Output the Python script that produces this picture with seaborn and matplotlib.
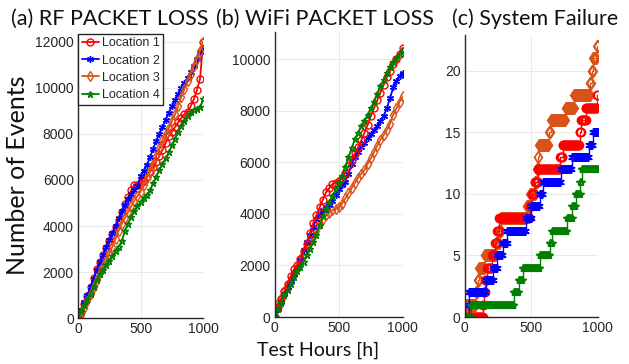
import numpy as np
import pandas as pd
import matplotlib
matplotlib.use("Agg")
import matplotlib.pyplot as plt
import seaborn as sns

# ---------------- data ----------------
hours = [0, 25, 50, 75, 100, 125, 150, 175, 200, 225, 250, 275, 300, 325, 350, 375, 400,
         425, 450, 475, 500, 525, 550, 575, 600, 625, 650, 675, 700, 725, 750, 775, 800,
         825, 850, 875, 900, 925, 950, 975, 1000]

# (a) RF packet loss
rf_loc1 = [0, 250, 600, 950, 1350, 1750, 2150, 2450, 2750, 3050, 3350, 3650, 3950, 4250, 4600,
           4950, 5250, 5550, 5800, 5800, 5850, 5950, 6150, 6350, 6550, 6800, 7050, 7300, 7600,
           7900, 8100, 8300, 8500, 8700, 8850, 8950, 9200, 9500, 9900, 10400, 12000]
rf_loc2 = [0, 350, 680, 1000, 1350, 1700, 2080, 2430, 2750, 3080, 3390, 3700, 4020, 4330, 4640,
           4920, 5180, 5400, 5560, 5720, 6180, 6400, 6650, 6980, 7350, 7700, 8000, 8300, 8620,
           8920, 9200, 9460, 9740, 10000, 10220, 10450, 10680, 10950, 11250, 11550, 11750]
rf_loc3 = [0, 150, 450, 750, 1050, 1350, 1650, 1950, 2250, 2500, 2800, 3100, 3450, 3800, 4100,
           4350, 4600, 4850, 5100, 5300, 5500, 5800, 6100, 6400, 6700, 7050, 7400, 7750, 8000,
           8250, 8550, 8850, 9200, 9600, 9950, 10300, 10600, 10950, 11250, 11600, 12000]
rf_loc4 = [0, 300, 550, 800, 1050, 1350, 1650, 1900, 2100, 2300, 2500, 2700, 2900, 3100, 3350,
           3800, 4100, 4400, 4650, 4850, 5050, 5200, 5350, 5550, 5850, 6150, 6450, 6700, 6950,
           7200, 7500, 7800, 8100, 8350, 8550, 8800, 8950, 9050, 9100, 9150, 9500]

# (b) WiFi packet loss
wifi_loc1 = [0, 400, 700, 1000, 1300, 1600, 1850, 2000, 2250, 2550, 2850, 3250, 3650, 3950, 4250,
             4550, 4850, 5000, 5150, 5200, 5280, 5400, 5600, 5850, 6100, 6350, 6600, 6850, 7150,
             7450, 7800, 8100, 8400, 8700, 9000, 9300, 9550, 9800, 10000, 10200, 10450]
wifi_loc2 = [0, 300, 600, 900, 1150, 1400, 1650, 1900, 2200, 2600, 2900, 3200, 3500, 3800, 4000,
             4150, 4250, 4350, 4500, 4750, 4950, 5100, 5250, 5550, 5950, 6200, 6400, 6600, 6750,
             6950, 7100, 7250, 7400, 7600, 7800, 8100, 8500, 8900, 9150, 9350, 9450]
wifi_loc3 = [200, 550, 750, 1000, 1250, 1450, 1700, 1950, 2250, 2500, 2700, 2900, 3100, 3350, 3600,
             3800, 3950, 4050, 4150, 4200, 4250, 4400, 4600, 4800, 5000, 5200, 5400, 5550, 5700,
             5950, 6150, 6400, 6650, 6880, 7050, 7250, 7500, 7850, 8100, 8350, 8560]
wifi_loc4 = [0, 300, 550, 850, 1050, 1300, 1550, 1800, 1950, 2150, 2400, 2650, 2900, 3200, 3550,
             3900, 4200, 4450, 4700, 4950, 5200, 5450, 5800, 6200, 6550, 6900, 7150, 7400, 7600,
             7850, 8100, 8350, 8650, 8950, 9200, 9450, 9700, 9900, 10050, 10200, 10350]

# (c) System failure: hours at which each failure occurred
fail_loc1 = [137, 142, 155, 170, 205, 230, 245, 260, 490, 505, 525, 552, 720, 737, 865, 878, 912, 998]
fail_loc2 = [28, 32, 160, 215, 245, 285, 320, 460, 500, 565, 590, 725, 805, 935, 965]
fail_loc3 = [3, 85, 98, 110, 150, 235, 258, 272, 465, 490, 530, 547, 553, 560, 635, 650, 760,
             825, 942, 955, 968, 995]
fail_loc4 = [50, 368, 405, 435, 565, 640, 660, 770, 810, 835, 870, 880]

labels = ["Location 1", "Location 2", "Location 3", "Location 4"]
titles = ["(a) RF PACKET LOSS", "(b) WiFi PACKET LOSS", "(c) System Failure"]
colors = ["#FF0000", "#0000FF", "#D95319", "#008000"]
markers = ["o", (6, 2, 0), "d", "*"]

# ---------------- style ----------------
sns.set_style("white")
plt.rcParams["font.family"] = ["Liberation Sans", "DejaVu Sans"]
title_font = ["Lato", "DejaVu Sans"]

W, H = 629, 364
fig = plt.figure(figsize=(6.29, 3.64), dpi=100)
axa = fig.add_axes([0.124, 0.126, 0.199, 0.778])
axb = fig.add_axes([0.437, 0.129, 0.2035, 0.783])
axc = fig.add_axes([0.739, 0.129, 0.211, 0.775])


def style_axis(ax):
    ax.grid(True, color="#e6e6e6", linewidth=0.6)
    ax.set_axisbelow(True)
    for s in ["top", "right"]:
        ax.spines[s].set_visible(False)
    for s in ["left", "bottom"]:
        ax.spines[s].set_color("#262626")
        ax.spines[s].set_linewidth(1.0)
    ax.tick_params(direction="in", length=3, width=0.8, labelsize=10,
                   colors="#262626", pad=3)
    ax.set_xlim(0, 1000)
    ax.set_xticks([0, 500, 1000])


def draw_series(ax, x, y, i, ms=5.0, lw=1.3, **kw):
    sns.lineplot(x=x, y=y, ax=ax, color=colors[i], marker=markers[i],
                 markerfacecolor="none", markeredgecolor=colors[i],
                 markeredgewidth=1.0, markersize=ms, linewidth=lw,
                 estimator=None, sort=False, label=labels[i], **kw)


rf = [rf_loc1, rf_loc2, rf_loc3, rf_loc4]
wifi = [wifi_loc1, wifi_loc2, wifi_loc3, wifi_loc4]
fails = [fail_loc1, fail_loc2, fail_loc3, fail_loc4]

for i in range(4):
    draw_series(axa, hours, rf[i], i)
for i in [2, 1, 0, 3]:
    draw_series(axb, hours, wifi[i], i)

grid_h = np.arange(0, 1001, 5)
for i in [2, 0, 1, 3]:
    ev = np.array(fails[i])
    xs = np.union1d(grid_h, ev)
    ys = np.searchsorted(ev, xs, side="right")
    draw_series(axc, xs, ys, i, ms=6, lw=1.0, drawstyle="steps-post")

style_axis(axa)
axa.set_ylim(0, 12300)
axa.set_yticks(range(0, 12001, 2000))
style_axis(axb)
axb.set_ylim(0, 11050)
axb.set_yticks(range(0, 10001, 2000))
style_axis(axc)
axc.set_ylim(0, 22.9)
axc.set_yticks([0, 5, 10, 15, 20])

for ax in (axb, axc):
    ax.get_legend().remove()

h, l = axa.get_legend_handles_labels()
axa.legend(h, l, loc="upper left", bbox_to_anchor=(0.0, 1.005), fontsize=9,
           frameon=True, fancybox=False, edgecolor="#262626", framealpha=1,
           handlelength=1.4, handletextpad=0.2, labelspacing=0.42,
           borderpad=0.3, borderaxespad=0.0)

for ax in (axa, axb, axc):
    ax.set_xlabel("")
    ax.set_ylabel("")

# titles (positions in figure pixels, centre of text)
title_x = [110, 325, 535]
for x, t in zip(title_x, titles):
    fig.text(x / W, 1 - 19 / H, t, fontsize=15.5, family=title_font,
             ha="center", va="center", color="#111111")

fig.text(18 / W, 1 - 175 / H, "Number of Events", fontsize=18, family=title_font,
         rotation=90, ha="center", va="center", color="#111111")
fig.text(318 / W, 1 - 350 / H, "Test Hours [h]", fontsize=14, family=title_font,
         ha="center", va="center", color="#111111")

fig.savefig("out.png", dpi=100, facecolor="white")
